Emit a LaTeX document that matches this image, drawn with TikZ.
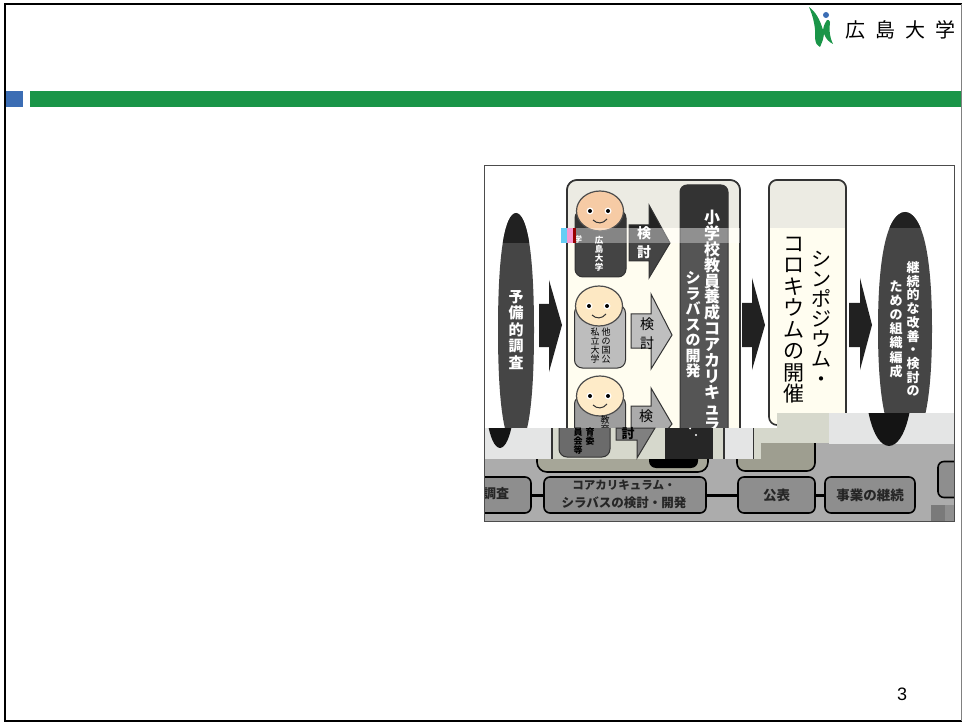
\documentclass[tikz,border=0pt]{standalone}
\usepackage{fontspec}
\setmainfont{Liberation Sans}
\newfontfamily\jp{Noto Sans CJK JP}
\usetikzlibrary{shapes.geometric, positioning}
\definecolor{barGreen}{HTML}{1A9548}
\definecolor{barBlue}{HTML}{3B6DB4}
\definecolor{lineDark}{HTML}{333333}
\definecolor{stripGrey}{HTML}{ACACAC}
\definecolor{keyGrey}{HTML}{8E8E8E}
\definecolor{bandGrey}{HTML}{E4E5E5}
\definecolor{bandBeige}{HTML}{D6D8CC}
\definecolor{lowBeige}{HTML}{A6A698}
\definecolor{panelFill}{HTML}{FFFDF0}
\definecolor{inkFill}{HTML}{555555}
\definecolor{bodyFill}{HTML}{444444}
\definecolor{tipFill}{HTML}{444444}
\normallineskiplimit=-50pt
\tikzset{
	panel/.style = {draw = lineDark, line width = 1.6pt, fill = panelFill, rounded corners = 10pt, inner sep = 0pt},
	body/.style = {draw = lineDark, line width = 1pt, rounded corners = 8pt, inner sep = 0pt, minimum width = 51pt},
	head/.style = {ellipse, draw = black!70, line width = 1.2pt, inner sep = 0pt, minimum width = 47pt, minimum height = 40pt},
	tate/.style 2 args = {align = center, inner sep = 0pt, font = \jp\bfseries\fontsize{#1}{#2}\selectfont},
	tatelight/.style 2 args = {align = center, inner sep = 0pt, font = \jp\fontsize{#1}{#2}\selectfont},
	key/.style = {draw = black, line width = 1.6pt, fill = keyGrey, rounded corners = 6pt, inner sep = 0pt, minimum height = 36pt, font = \jp\bfseries\fontsize{13.5}{18}\selectfont, align = center, text = black!85},
}
\newcommand{\lens}[4]{(#1,#2) .. controls ({#1+#4*.6},{#2+1}) and ({#1+#4},{(#2+#3)/2-80}) .. ({#1+#4},{(#2+#3)/2}) .. controls ({#1+#4},{(#2+#3)/2+80}) and ({#1+#4*.6},{#3-1}) .. (#1,#3) .. controls ({#1-#4*.6},{#3-1}) and ({#1-#4},{(#2+#3)/2+80}) .. ({#1-#4},{(#2+#3)/2}) .. controls ({#1-#4},{(#2+#3)/2-80}) and ({#1-#4*.6},{#2+1}) .. cycle}
\begin{document}
\begin{tikzpicture}[x = 1pt, y = -1pt]
	\lineskiplimit=-50pt
	\useasboundingbox (0, 0) rectangle (962, 722);
	\fill [white] (0, 0) rectangle (962, 722);
	% slide furniture
	\fill [barBlue] (5, 91) rectangle (23, 107);
	\fill [barGreen] (30, 91) rectangle (962, 107);
	\draw [line width = 2.5pt] (5, 722) -- (5, 4) -- (962, 4);
	\draw [line width = 1.5pt] (5, 721) -- (962, 721);
	\draw [gray, line width = 1pt] (961.5, 4) -- (961.5, 721);
	\fill [barGreen] (809, 7) .. controls (816, 12) and (820, 20) .. (823, 30) .. controls (824, 25) .. (827, 20) .. controls (829, 20) .. (830, 22) .. controls (829, 32) and (830, 38) .. (833, 44) .. controls (829, 42) and (826, 39) .. (824, 34) .. controls (823, 40) .. (820, 47) .. controls (816, 44) .. (815, 38) .. controls (816, 28) and (813, 16) .. (809, 7);
	\fill [barBlue] (826, 15) circle [radius = 3];
	\node [inner sep = 0pt, font = \jp\fontsize{20}{20}\selectfont] (logoText) at (900, 30) {広\hspace{10pt}島\hspace{10pt}大\hspace{10pt}学};
	\node [inner sep = 0pt, font = \fontsize{18}{20}\selectfont] (pageNo) at (902, 694) {3};

	\begin{scope}
		\clip (484, 166) rectangle (954, 521);
		\def\slideshapes{
			\node [panel, minimum width = 173pt, minimum height = 260pt] (coreBox) at (653.5, 310) {};
			\node [draw = lineDark, line width = 1pt, fill = inkFill, rounded corners = 7pt, minimum width = 48pt, minimum height = 255pt, inner sep = 0pt] (syllabus) at (704, 312.5) {};
			\node [panel, rounded corners = 8pt, minimum width = 77pt, minimum height = 245pt] (symposium) at (807.5, 302.5) {};
			\draw [draw = lineDark, fill = tipFill, line width = 1pt] (629, 225) -- (649, 225) -- (649, 205) -- (670, 243) -- (649, 278) -- (649, 261) -- (629, 261) -- cycle;
			\node [body, fill = bodyFill, minimum height = 67pt] (bodyHiroshima) at (600.5, 243.5) {};
			\node [head, fill = {rgb,255:red,246;green,203;blue,165}] (headHiroshima) at (600, 211) {};
		}
		\slideshapes
		% other two people and their arrows
		\draw [draw = lineDark, fill = black!25, line width = 1pt] (631, 314) -- (651, 314) -- (651, 294) -- (672, 335) -- (651, 369) -- (651, 348) -- (631, 348) -- cycle;
		\draw [draw = lineDark, fill = black!33, line width = 1pt] (631, 406) -- (651, 406) -- (651, 388) -- (672, 424) -- (651, 450) -- (651, 440) -- (631, 440) -- cycle;
		\node [body, fill = black!26, minimum height = 63pt] (bodyPrivate) at (600, 336.5) {};
		\node [head, fill = {rgb,255:red,253;green,232;blue,195}] (headPrivate) at (599, 306) {};
		\node [body, fill = black!38, minimum height = 44pt] (bodyBoard) at (600, 418) {};
		\node [head, fill = {rgb,255:red,254;green,235;blue,200}] (headBoard) at (600, 396) {};
		\foreach \cx/\cy in {600/211, 599/306, 600/396} {
			\fill [white] (\cx-10, \cy) circle [radius = 3.5];
			\fill [white] (\cx+8, \cy) circle [radius = 3.5];
			\fill [black] (\cx-10, \cy) circle [radius = 2];
			\fill [black] (\cx+8, \cy) circle [radius = 2];
			\draw [black!80, line width = 1pt] (\cx-7, \cy+9) .. controls (\cx-3, \cy+13) and (\cx+3, \cy+13) .. (\cx+7, \cy+8);
		}
		% darker top of the scan
		\begin{scope}
			\clip (561, 166) rectangle (954, 228);
			\definecolor{panelFill}{HTML}{ECEBE3}
			\definecolor{inkFill}{HTML}{333333}
			\definecolor{bodyFill}{HTML}{333333}
			\definecolor{tipFill}{HTML}{222222}
			\slideshapes
			\foreach \cx/\cy in {600/211} {
				\fill [white] (\cx-10, \cy) circle [radius = 3.5];
				\fill [white] (\cx+8, \cy) circle [radius = 3.5];
				\fill [black] (\cx-10, \cy) circle [radius = 2];
				\fill [black] (\cx+8, \cy) circle [radius = 2];
				\draw [black!80, line width = 1pt] (\cx-7, \cy+9) .. controls (\cx-3, \cy+13) and (\cx+3, \cy+13) .. (\cx+7, \cy+8);
			}
		\end{scope}
		% the two pointed ovals
		\fill [black!73] \lens{516}{213}{447}{18};
		\fill [black!73] \lens{905}{212}{446}{27};
		\begin{scope}
			\clip (484, 166) rectangle (561, 243);
			\fill [black!87] \lens{516}{213}{447}{18};
		\end{scope}
		\begin{scope}
			\clip (861, 166) rectangle (954, 228);
			\fill [black!87] \lens{905}{212}{446}{27};
		\end{scope}
		% black arrows
		\fill [black!87] (539, 304) -- (549, 304) -- (549, 280) -- (562, 325) -- (549, 372) -- (549, 347) -- (539, 347) -- cycle;
		\fill [black!87] (742, 303) -- (752, 303) -- (752, 278) -- (765, 325) -- (752, 370) -- (752, 347) -- (742, 347) -- cycle;
		\fill [black!87] (849, 303) -- (860, 303) -- (860, 278) -- (872, 325) -- (860, 370) -- (860, 347) -- (849, 347) -- cycle;
		% texts of the upper part
		\node [tate = {15}{16.5}, text = white] (prep) at (516, 330) {予\\備\\的\\調\\査};
		\node [tate = {13}{13.7}, text = white] (contA) at (913, 329) {継\\続\\的\\な\\改\\善\\・\\検\\討\\の};
		\node [tate = {13}{14.2}, text = white] (contB) at (896, 329) {た\\め\\の\\組\\織\\編\\成};
		\node [tate = {16}{15.9}, text = white] (coreA) at (712, 336) {小\\学\\校\\教\\員\\養\\成\\コ\\ア\\カ\\リ\\キ\\ュ\\ラ\\ム\\・};
		\node [tate = {15}{15.5}, text = white] (coreB) at (693, 325) {シ\\ラ\\バ\\ス\\の\\開\\発};
		\node [tatelight = {21}{21.5}] (sympA) at (794, 320) {コ\\ロ\\キ\\ウ\\ム\\の\\開\\催};
		\node [tatelight = {20}{20}] (sympB) at (821, 319) {シ\\ン\\ポ\\ジ\\ウ\\ム\\・};
		\node [tate = {8.5}{9}, text = white] (hiroshimaText) at (599, 254) {広\\島\\大\\学};
		\node [tate = {8}{8}, text = white] (glitchChar) at (578, 239) {学};
		\node [tatelight = {9}{9.2}] (privateA) at (606, 345.5) {他\\の\\国\\公};
		\node [tatelight = {9}{9.2}] (privateB) at (595, 345.5) {私\\立\\大\\学};
		\node [tatelight = {9}{9.2}] (boardA) at (605, 424.5) {教\\育};
		\node [tate = {14}{19}, text = white] (reviewA) at (644, 243) {検\\討};
		\node [tatelight = {14}{19}] (reviewB) at (647, 333.5) {検\\討};
		\node [tatelight = {14}{19}] (reviewC) at (646, 425.5) {検\\討};
		% pale band and the colour fault
		\fill [white, opacity = 0.35] (576, 228) rectangle (740, 243);
		\fill [cyan!60] (561, 228) rectangle (567, 243);
		\fill [magenta!40] (567, 228) rectangle (573, 243);
		\fill [red!60!black] (573, 228) rectangle (576, 243);

		% grey strip of the lower part
		\fill [stripGrey] (484, 459) rectangle (954, 521);
		\fill [stripGrey] (761, 443) rectangle (954, 459);
		\node [draw = black, line width = 1.6pt, fill = lowBeige, rounded corners = 10pt, minimum width = 171pt, minimum height = 40pt, inner sep = 0pt] (lowerCore) at (622.5, 452) {};
		\fill [black, rounded corners = 7pt] (649, 440) rectangle (698, 468);
		\node [draw = black, line width = 1.6pt, fill = lowBeige!95!black, rounded corners = 8pt, minimum width = 78pt, minimum height = 40pt, inner sep = 0pt] (lowerSymp) at (776, 451) {};
		\node [key, minimum width = 61pt] (keySurvey) at (500.5, 495) {};
		\node [key, minimum width = 162pt] (keyCore) at (625, 495) {};
		\node [key, minimum width = 77pt] (keyPublish) at (776.5, 495) {公表};
		\node [key, minimum width = 90pt] (keyContinue) at (870, 495) {事業の継続};
		\node [key, minimum width = 30pt] (keyNext) at (953, 479.5) {};
		\node [inner sep = 0pt, font = \jp\bfseries\fontsize{13}{18}\selectfont, text = black!85] (surveyText) at (496, 494) {調査};
		\node [inner sep = 0pt, align = center, font = \jp\bfseries\fontsize{12.5}{18}\selectfont, text = black!85] (coreText) at (624, 494) {{\fontsize{11.5}{18}\selectfont コアカリキュラム・}\\シラバスの検討・開発};
		\draw [line width = 3pt] (keySurvey) -- (keyCore);
		\draw [line width = 3pt] (keyCore) -- (keyPublish);
		\draw [line width = 3pt] (keyPublish) -- (keyContinue);
		\fill [black!52] (931, 505) rectangle (945, 521);
		\fill [black!44] (945, 505) rectangle (954, 521);

		% displaced band
		\fill [bandGrey] (484, 428) rectangle (761, 459);
		\fill [bandBeige] (552, 428) rectangle (725, 459);
		\fill [bandBeige] (754, 428) rectangle (761, 459);
		\fill [bandBeige] (754, 428) rectangle (829, 443);
		\fill [bandBeige] (777, 413) rectangle (829, 428);
		\fill [bandGrey] (829, 413) rectangle (954, 444);
		\begin{scope}
			\clip (484, 428) rectangle (552, 459);
			\fill [black!92] \lens{500}{214}{448}{18};
		\end{scope}
		\begin{scope}
			\clip (829, 413) rectangle (954, 446);
			\fill [black!92] \lens{889}{211}{446}{27};
		\end{scope}
		\draw [lineDark, line width = 1.6pt] (552, 428) -- (552, 459);
		\draw [lineDark, line width = 1.6pt] (724, 428) -- (724, 459);
		\draw [lineDark, line width = 1.6pt] (753.5, 428) -- (753.5, 459);
		\begin{scope}
			\clip (484, 428) rectangle (761, 459);
			\node [body, fill = black!58, minimum height = 44pt] (bodyBoardLow) at (584.5, 435) {};
		\end{scope}
		\draw [lineDark, fill = black!50, line width = 1pt] (616, 428) -- (616, 440) -- (637, 440) -- (637, 458) -- (655, 428) -- cycle;
		\fill [black!85] (665, 428) rectangle (713, 459);
		\fill [white] (696, 435) circle [radius = 1.2];
		\fill [white] (690, 428.5) circle [radius = 1];
		\node [tate = {9}{9}] (boardB) at (590, 437) {育\\委};
		\node [tate = {9}{9}] (boardC) at (578, 441) {員\\会\\等};
		\node [tate = {13}{13}] (reviewLow) at (628, 434) {討};
	\end{scope}
	\draw [black!70, line width = 1pt] (484, 166) rectangle (954, 521);
\end{tikzpicture}
\end{document}
